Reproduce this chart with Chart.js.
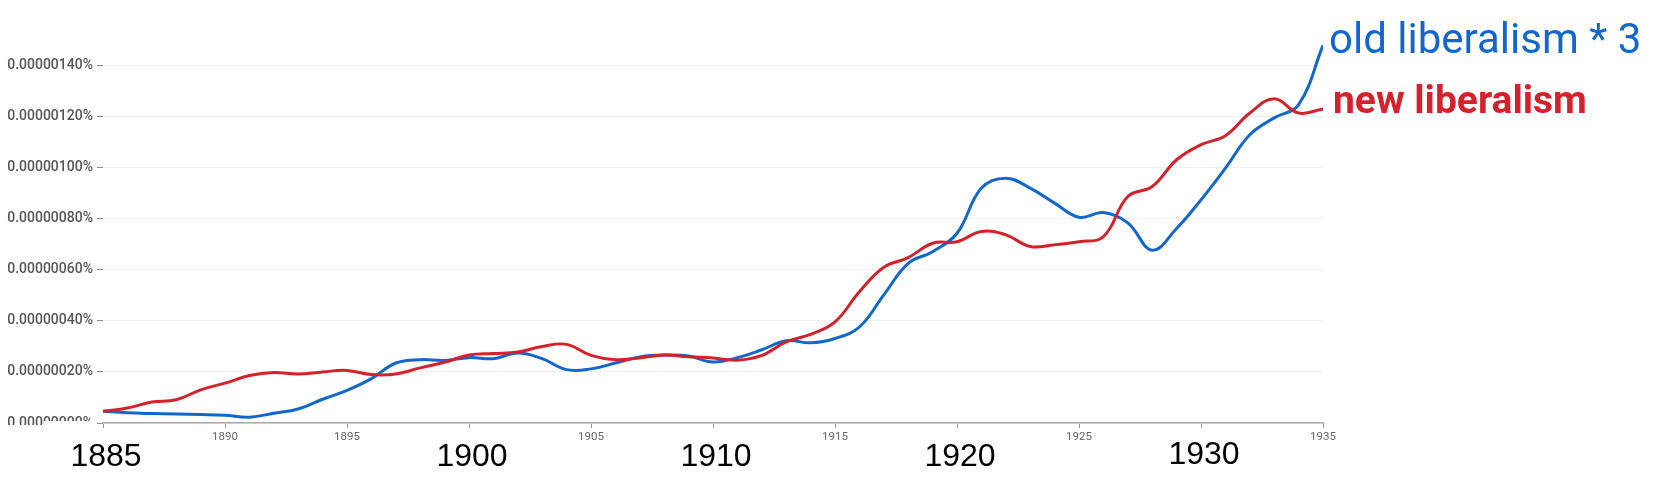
<!DOCTYPE html>
<html>
<head>
<meta charset="utf-8">
<title>old liberalism vs new liberalism</title>
<script src="https://cdn.jsdelivr.net/npm/chart.js@4"></script>
<style>
    html, body { margin: 0; padding: 0; background: #fff; }
    canvas { display: block; }
</style>
</head>
<body>
<canvas id="ngramChart" width="1672" height="477"></canvas>
<script>
// Values are in units of 0.00000001 %
const YEARS = [
    1885, 1886, 1887, 1888, 1889, 1890, 1891, 1892, 1893, 1894,
    1895, 1896, 1897, 1898, 1899, 1900, 1901, 1902, 1903, 1904,
    1905, 1906, 1907, 1908, 1909, 1910, 1911, 1912, 1913, 1914,
    1915, 1916, 1917, 1918, 1919, 1920, 1921, 1922, 1923, 1924,
    1925, 1926, 1927, 1928, 1929, 1930, 1931, 1932, 1933, 1934,
    1935,
];

const OLD_LIBERALISM = [
    4.6, 4.0, 3.7, 3.5, 3.3, 3.0, 2.3, 3.8, 5.5, 9.3,
    12.8, 17.4, 23.5, 24.8, 24.5, 25.6, 25.2, 27.4, 25.2, 20.9,
    21.2, 23.5, 25.9, 26.6, 26.2, 23.9, 25.6, 28.7, 32.2, 31.4,
    33.1, 37.6, 50.2, 62.5, 67.1, 74.3, 92.0, 95.9, 92.0, 86.1,
    80.6, 82.4, 78.4, 67.7, 76.2, 87.4, 99.8, 112.9, 119.5, 124.7,
    147.9,
];

const NEW_LIBERALISM = [
    4.6, 5.9, 8.2, 9.1, 13.0, 15.6, 18.6, 19.8, 19.2, 20.0,
    20.6, 19.0, 19.2, 21.6, 23.8, 26.6, 27.2, 27.8, 30.0, 30.8,
    26.5, 24.8, 25.5, 26.6, 25.9, 25.5, 24.6, 26.5, 31.8, 34.7,
    39.6, 51.4, 61.0, 64.8, 70.4, 71.0, 75.0, 73.7, 69.1, 69.8,
    71.0, 73.0, 88.7, 92.6, 103.1, 109.0, 112.5, 121.4, 127.0, 121.4,
    123.0,
];

const SERIES_NAMES = ['old liberalism * 3', 'new liberalism'];
const SERIES_COLORS = ['#1267cc', '#d3222b'];

// small grey labels on the axis, the others are drawn large on top
const SMALL_YEAR_LABELS = [1890, 1895, 1905, 1915, 1925, 1935];
const BIG_YEAR_LABELS = [1885, 1900, 1910, 1920, 1930];

const Y_TICKS = [0, 20, 40, 60, 80, 100, 120, 140];

/**
 * Overlay: series names at the right end of the lines and the
 * big year captions under the axis.
 */
const overlayPlugin = {
    id: 'overlay',
    afterDraw(chart) {
        const { ctx, chartArea, scales } = chart;
        ctx.save();

        // the caption boxes cover the bottom of the zero label
        ctx.fillStyle = '#fff';
        ctx.fillRect(0, 425, 44, 52);
        ctx.fillRect(44, 421, 52, 56);

        ctx.textBaseline = 'alphabetic';
        ctx.textAlign = 'left';
        ctx.fillStyle = SERIES_COLORS[0];
        ctx.font = '42px Roboto';
        ctx.fillText(SERIES_NAMES[0], chartArea.right + 6, 53);
        ctx.fillStyle = SERIES_COLORS[1];
        ctx.font = 'bold 39px Roboto';
        ctx.fillText(SERIES_NAMES[1], chartArea.right + 10, 113);

        ctx.textAlign = 'center';
        ctx.fillStyle = '#000';
        ctx.font = '32px "Liberation Sans", Arial, sans-serif';
        BIG_YEAR_LABELS.forEach(y => {
            const x = scales.x.getPixelForValue(y) + 3;
            ctx.fillText(String(y), x, y === 1930 ? 464 : 466);
        });
        ctx.restore();
    },
};

function renderChart() {
    const ctx = document.getElementById('ngramChart').getContext('2d');

    new Chart(ctx, {
        type: 'line',
        data: {
            labels: YEARS,
            datasets: [
                {
                    label: SERIES_NAMES[1],
                    data: YEARS.map((y, i) => ({ x: y, y: NEW_LIBERALISM[i] })),
                    borderColor: SERIES_COLORS[1],
                },
                {
                    label: SERIES_NAMES[0],
                    data: YEARS.map((y, i) => ({ x: y, y: OLD_LIBERALISM[i] })),
                    borderColor: SERIES_COLORS[0],
                },
            ],
        },
        options: {
            responsive: false,
            animation: false,
            devicePixelRatio: 1,
            layout: { padding: { left: 0, right: 349, top: 40, bottom: 0 } },
            elements: {
                point: { radius: 0 },
                line: { borderWidth: 3, tension: 0.4, fill: false },
            },
            plugins: {
                legend: { display: false },
                tooltip: { enabled: false },
            },
            scales: {
                x: {
                    type: 'linear',
                    min: 1885,
                    max: 1935,
                    afterFit: scale => { scale.height = 54; },
                    ticks: {
                        stepSize: 5,
                        autoSkip: false,
                        maxRotation: 0,
                        padding: 2,
                        color: '#666',
                        font: { family: 'Roboto', size: 11.5 },
                        callback: v => (SMALL_YEAR_LABELS.includes(v) ? String(v) : ''),
                    },
                    grid: {
                        drawOnChartArea: false,
                        tickLength: 5,
                        tickColor: '#9a9a9a',
                    },
                    border: { display: true, color: '#aaa', width: 1.5 },
                },
                y: {
                    min: 0,
                    max: 150,
                    afterFit: scale => { scale.width = 103; },
                    afterBuildTicks: scale => {
                        scale.ticks = Y_TICKS.map(v => ({ value: v }));
                    },
                    ticks: {
                        padding: 4,
                        color: '#555',
                        font: { family: 'Roboto', size: 14, weight: '500' },
                        callback: v => (v / 1e8).toFixed(8) + '%',
                    },
                    grid: {
                        color: '#f0f0f0',
                        tickLength: 6,
                        tickColor: '#8a8a8a',
                    },
                    border: { display: false },
                },
            },
        },
        plugins: [overlayPlugin],
    });
}

renderChart();
</script>
</body>
</html>
